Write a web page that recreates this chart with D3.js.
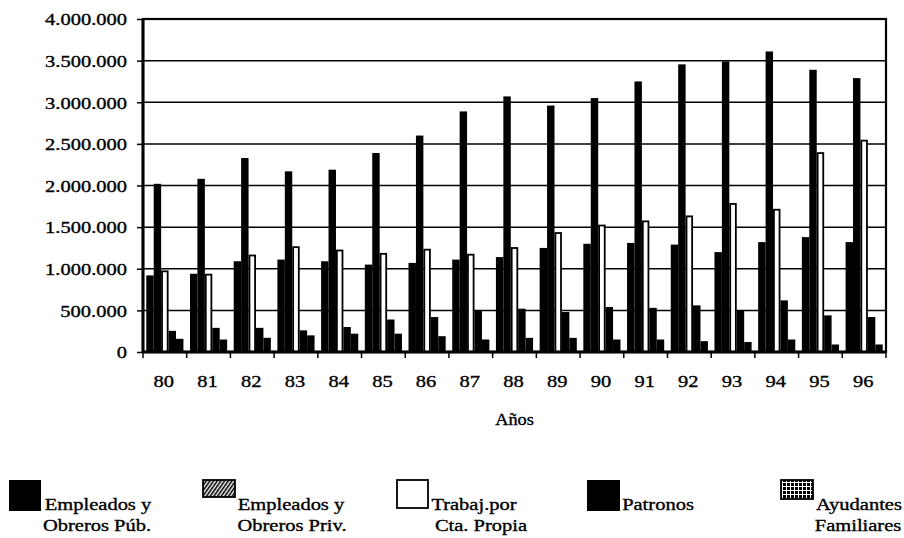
<!DOCTYPE html>
<html>
<head>
<meta charset="utf-8">
<script src="https://cdn.jsdelivr.net/npm/d3@7"></script>
<style>
  html, body { margin: 0; padding: 0; background: #fff; }
  svg { display: block; }
  svg text { font-family: "Liberation Serif", "Times New Roman", serif; fill: #000; stroke: #000; stroke-width: 0.35px; }
</style>
</head>
<body>
<svg id="chart" width="904" height="538"></svg>
<script>
// ---- Data ----
const years = ["80","81","82","83","84","85","86","87","88","89","90","91","92","93","94","95","96"];
const seriesKeys = ["pub", "priv", "propia", "patronos", "ayudantes"];
const publicos     = [920000, 940000, 1090000, 1110000, 1090000, 1050000, 1070000, 1110000, 1140000, 1250000, 1300000, 1310000, 1290000, 1200000, 1320000, 1380000, 1320000];
const privados     = [2020000, 2080000, 2330000, 2170000, 2190000, 2390000, 2600000, 2890000, 3070000, 2960000, 3050000, 3250000, 3455000, 3490000, 3610000, 3390000, 3290000];
const cuentaPropia = [980000, 940000, 1170000, 1270000, 1230000, 1190000, 1240000, 1180000, 1260000, 1440000, 1530000, 1580000, 1640000, 1790000, 1720000, 2400000, 2550000];
const patronos     = [254000, 290000, 290000, 260000, 300000, 390000, 420000, 495000, 520000, 480000, 540000, 530000, 560000, 500000, 620000, 440000, 420000];
const ayudantes    = [158000, 150000, 170000, 200000, 220000, 220000, 190000, 150000, 170000, 170000, 150000, 150000, 130000, 120000, 150000, 90000, 90000];
const yTickValues  = [0, 500000, 1000000, 1500000, 2000000, 2500000, 3000000, 3500000, 4000000];
const legendLabels = [["Empleados y", "Obreros Púb."], ["Empleados y", "Obreros Priv."], ["Trabaj.por", "Cta. Propia"], ["Patronos"], ["Ayudantes", "Familiares"]];
const xTitle = "Años";

const valuesByKey = { pub: publicos, priv: privados, propia: cuentaPropia, patronos: patronos, ayudantes: ayudantes };
const rows = years.map((yr, i) => ({ year: yr, values: seriesKeys.map(k => ({ key: k, value: valuesByKey[k][i] })) }));

// ---- Layout ----
const L = 143, R = 886, T = 19, B = 352;
const FS = 17;
const ctx = document.createElement("canvas").getContext("2d");
ctx.font = `${FS}px "Liberation Serif", serif`;
const SX = 82 / (ctx.measureText("4.000.000").width || 68);   // type in the scan is ~20% wider than Times

const svg = d3.select("#chart");

const x0 = d3.scaleBand().domain(years).range([L, R]).paddingInner(0.15).paddingOuter(0.075);
const x1 = d3.scaleBand().domain(seriesKeys).range([0, x0.bandwidth()]);
const y = d3.scaleLinear().domain([0, 4000000]).range([B, T]);

const loc = d3.formatLocale({ decimal: ",", thousands: ".", grouping: [3], currency: ["", ""] });
const fmt = loc.format(",");

// ---- Patterns ----
const defs = svg.append("defs");
const step = x0.step();
const pat = defs.append("pattern").attr("id", "privBar").attr("patternUnits", "userSpaceOnUse")
  .attr("width", step).attr("height", 10.5)
  .attr("x", x0(years[0]) + x1("priv") + x1.bandwidth() / 2 - step / 2).attr("y", B);
pat.append("rect").attr("width", step).attr("height", 10.5).attr("fill", "#000");
pat.append("line").attr("x1", step / 2 - 1).attr("y1", 6).attr("x2", step / 2 + 1).attr("y2", 3.5)
  .attr("stroke", "#fff").attr("stroke-width", 1.1);

const hatch = defs.append("pattern").attr("id", "legHatch").attr("patternUnits", "userSpaceOnUse")
  .attr("width", 3).attr("height", 3).attr("patternTransform", "rotate(35)");
hatch.append("rect").attr("width", 3).attr("height", 3).attr("fill", "#fff");
hatch.append("rect").attr("width", 1.6).attr("height", 3).attr("fill", "#000");

const grid = defs.append("pattern").attr("id", "legGrid").attr("patternUnits", "userSpaceOnUse")
  .attr("width", 4).attr("height", 4);
grid.append("rect").attr("width", 4).attr("height", 4).attr("fill", "#000");
grid.append("rect").attr("x", 2).attr("width", 1).attr("height", 4).attr("fill", "#fff");
grid.append("rect").attr("y", 2).attr("width", 4).attr("height", 1).attr("fill", "#fff");

// ---- Gridlines ----
svg.append("g").selectAll("line").data(yTickValues).join("line")
  .attr("x1", L).attr("x2", R).attr("y1", d => y(d)).attr("y2", d => y(d))
  .attr("stroke", "#000").attr("stroke-width", 1.5);

// ---- Bars ----
const fills = { pub: "#000", priv: "url(#privBar)", propia: "#fff", patronos: "#000", ayudantes: "#000" };
const groups = svg.append("g").selectAll("g").data(rows).join("g")
  .attr("transform", d => `translate(${x0(d.year)},0)`);
groups.selectAll("rect").data(d => d.values).join("rect")
  .attr("x", d => x1(d.key) + (d.key === "propia" ? 0.9 : 0))
  .attr("width", d => x1.bandwidth() - (d.key === "propia" ? 1.8 : 0))
  .attr("y", d => y(d.value) + (d.key === "propia" ? 0.9 : 0))
  .attr("height", d => B - y(d.value) - (d.key === "propia" ? 0.9 : 0))
  .attr("fill", d => fills[d.key])
  .attr("stroke", d => d.key === "propia" ? "#000" : "none")
  .attr("stroke-width", 1.8);

// ---- Frame ----
svg.append("rect").attr("x", L).attr("y", T).attr("width", R - L).attr("height", B - T)
  .attr("fill", "none").attr("stroke", "#000").attr("stroke-width", 2.2);
svg.append("line").attr("x1", L).attr("x2", L).attr("y1", T).attr("y2", B).attr("stroke", "#000").attr("stroke-width", 3);
svg.append("line").attr("x1", L).attr("x2", R).attr("y1", B).attr("y2", B).attr("stroke", "#000").attr("stroke-width", 3);

// ---- Y axis ----
const yAxis = svg.append("g").attr("transform", `translate(${L},0)`)
  .call(d3.axisLeft(y).tickValues(yTickValues).tickFormat(d => fmt(d)).tickSize(6).tickSizeOuter(0));
yAxis.attr("font-family", null).attr("font-size", null);
yAxis.select(".domain").remove();
yAxis.selectAll(".tick line").attr("stroke", "#000").attr("stroke-width", 1.5);
yAxis.selectAll(".tick text")
  .attr("x", 0).attr("dy", "0.34em")
  .attr("transform", `translate(-16,0) scale(${SX},1)`)
  .style("font-size", FS + "px");

// ---- X axis (ticks at category boundaries, labels centred) ----
const boundaries = [L].concat(years.map(d => x0(d) - x0.paddingOuter() * step + step));
svg.append("g").selectAll("line").data(boundaries).join("line")
  .attr("x1", d => d).attr("x2", d => d).attr("y1", B).attr("y2", B + 6)
  .attr("stroke", "#000").attr("stroke-width", 1.5);
svg.append("g").selectAll("text").data(years).join("text")
  .attr("text-anchor", "middle")
  .attr("transform", d => `translate(${x0(d) + x0.bandwidth() / 2 - 1},${B + 35}) scale(${SX},1)`)
  .style("font-size", FS + "px")
  .text(d => d);

svg.append("text").attr("text-anchor", "middle")
  .attr("transform", `translate(${(L + R) / 2},${B + 73}) scale(${SX * 0.95},1)`)
  .style("font-size", "16px")
  .text(xTitle);

// ---- Legend ----
const legendLayout = [
  { sx: 9,   sw: 32, sh: 31, fill: "#000",           stroke: "none", tx: [98, 97] },
  { sx: 203, sw: 32, sh: 17, fill: "url(#legHatch)", stroke: "#000", tx: [291, 292] },
  { sx: 397, sw: 31, sh: 28, fill: "#fff",           stroke: "#000", tx: [474, 481] },
  { sx: 587, sw: 33, sh: 31, fill: "#000",           stroke: "none", tx: [658] },
  { sx: 781, sw: 32, sh: 19, fill: "url(#legGrid)",  stroke: "#000", tx: [859, 858] }
];
const legTop = 480;
const leg = svg.append("g").selectAll("g").data(legendLabels).join("g");
leg.append("rect")
  .attr("x", (d, i) => legendLayout[i].sx).attr("y", legTop)
  .attr("width", (d, i) => legendLayout[i].sw).attr("height", (d, i) => legendLayout[i].sh)
  .attr("fill", (d, i) => legendLayout[i].fill)
  .attr("stroke", (d, i) => legendLayout[i].stroke).attr("stroke-width", 1.8);
leg.each(function (lines, i) {
  d3.select(this).selectAll("text").data(lines).join("text")
    .attr("text-anchor", "middle")
    .attr("transform", (t, j) => `translate(${legendLayout[i].tx[j]},${510 + j * 21}) scale(${SX},1)`)
    .style("font-size", FS + "px")
    .text(t => t);
});
</script>
</body>
</html>
